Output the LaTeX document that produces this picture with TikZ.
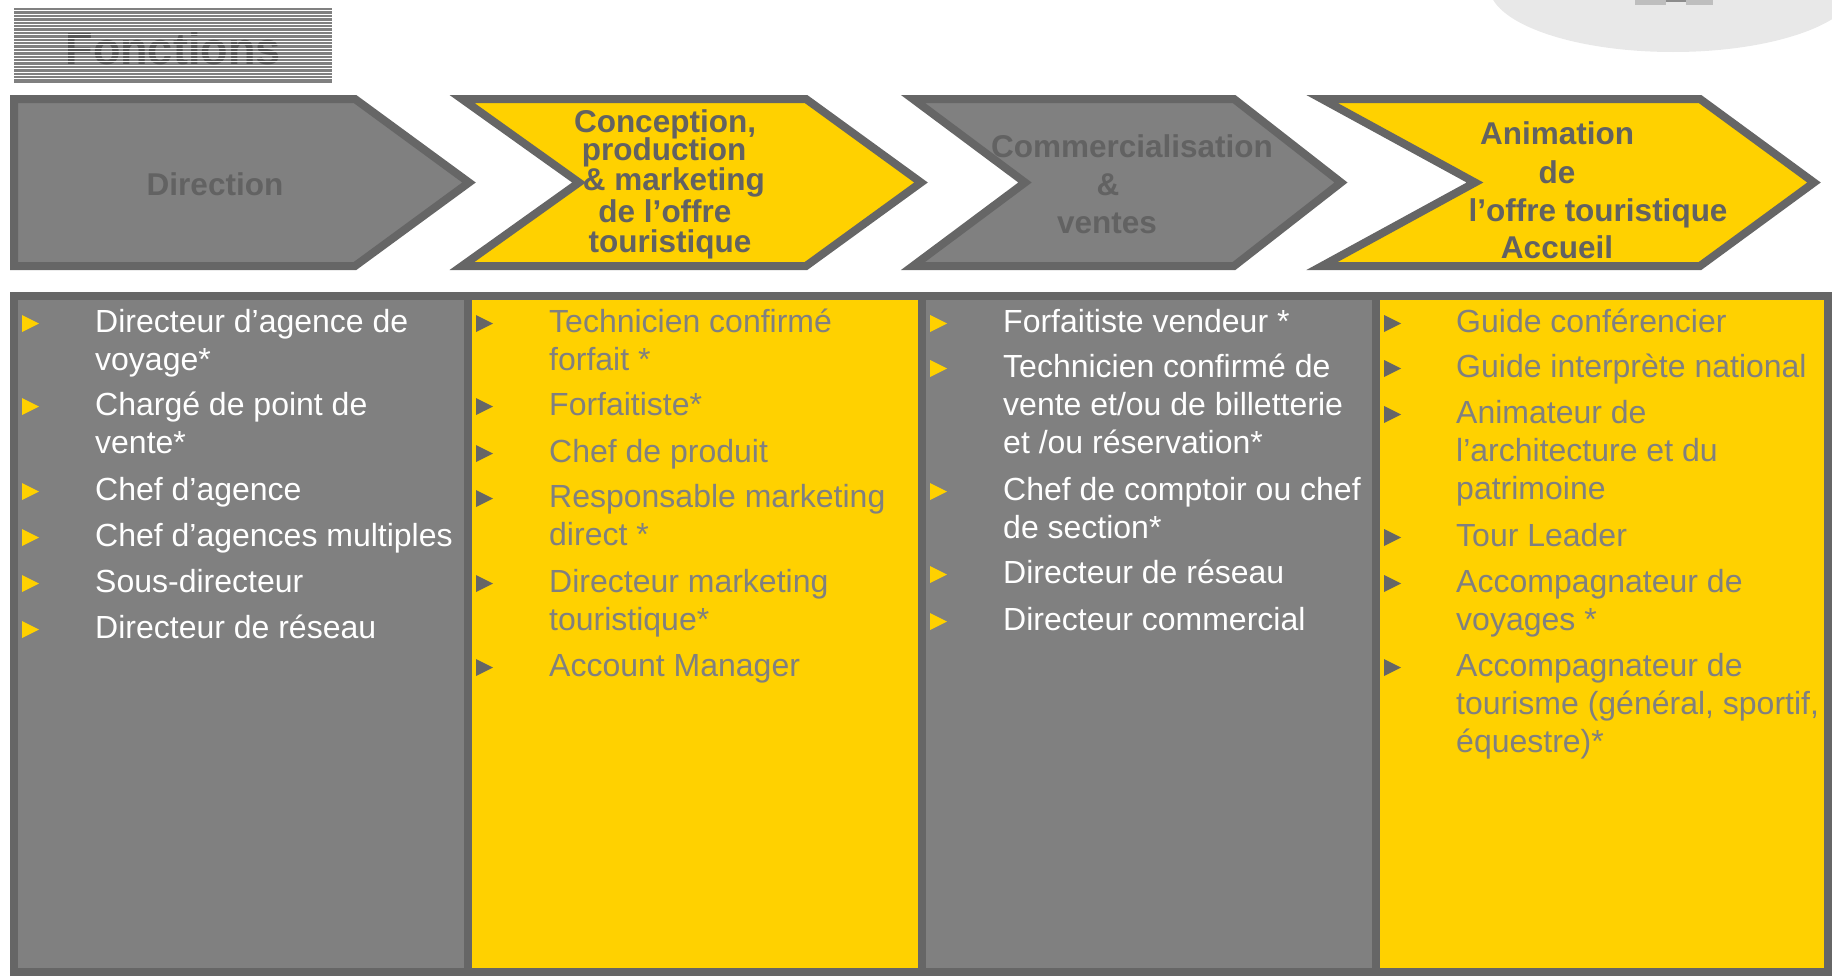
\documentclass[tikz,border=0pt]{standalone}
\usepackage{fontspec}
\setmainfont{Liberation Sans}
\definecolor{cgray}{HTML}{808080}
\definecolor{cborder}{HTML}{666666}
\definecolor{cyellow}{HTML}{FFD100}
\definecolor{ctxt}{HTML}{626262}
\definecolor{ctitle}{HTML}{555555}
\definecolor{cellipse}{HTML}{E8E8E8}
\definecolor{clogo}{HTML}{BEBEBE}
\definecolor{clogod}{HTML}{8C8C8C}
\newcommand\mybul[3]{\fill[#3] (#1,#2) -- ++(17,-8.5) -- ++(-17,-8.5) -- cycle;}
\begin{document}
\begin{tikzpicture}[x=1bp,y=-1bp,
  arrowshape/.style={line width=8bp, draw=cborder, line join=miter},
  ttl/.style={font=\fontsize{31.5bp}{38bp}\selectfont\bfseries, text=ctxt, inner sep=0, anchor=base},
  item/.style={font=\fontsize{32bp}{38bp}\selectfont, inner sep=0, anchor=base west, align=left},
  itemw/.style={item, text=white},
  itemg/.style={item, text=cgray},
  cell/.style={line width=8bp, draw=cborder},
]
\useasboundingbox (0,0) rectangle (1832,976);
% top-right decorative disc
\fill[cellipse] (1673,-14) ellipse [x radius=184, y radius=66];
\fill[clogo] (1635,0) rectangle (1666,5);
\fill[clogod] (1666,0) rectangle (1686,2);
\fill[clogo] (1686,0) rectangle (1713,5);
% title "Fonctions"
\fill[cgray] (14,8) rectangle (332,83);
\node[font=\fontsize{45bp}{50bp}\selectfont\bfseries, text=ctitle, inner sep=0, anchor=base] (fonctions) at (173,64) {Fonctions};
\foreach \k in {0,...,20} {\draw[white, line width=0.9bp] (14,10.8+3.4*\k) -- (332,10.8+3.4*\k);}
% process arrows
\filldraw[arrowshape, fill=cgray] (14,99) -- (355,99) -- (469,182.5) -- (355,266) -- (14,266) -- cycle;
\filldraw[arrowshape, fill=cyellow] (462,99) -- (806,99) -- (921,182.5) -- (806,266) -- (462,266) -- (579,182.5) -- cycle;
\filldraw[arrowshape, fill=cgray] (913,99) -- (1234,99) -- (1341,182.5) -- (1234,266) -- (913,266) -- (1025,182.5) -- cycle;
\filldraw[arrowshape, fill=cyellow] (1322,99) -- (1700,99) -- (1814,182.5) -- (1700,266) -- (1322,266) -- (1475,182.5) -- cycle;
% arrow titles
\node[ttl] (t1) at (215,195) {Direction};
\node[ttl] (t2a) at (665,132) {Conception,};
\node[ttl] (t2b) at (664,160) {production};
\node[ttl] (t2c) at (674,190) {\& marketing};
\node[ttl] (t2d) at (665,222) {de l’offre};
\node[ttl] (t2e) at (670,252) {touristique};
\node[ttl] (t3a) at (1132,157) {Commercialisation};
\node[ttl] (t3b) at (1108,195) {\&};
\node[ttl] (t3c) at (1107,233) {ventes};
\node[ttl] (t4a) at (1557,144) {Animation};
\node[ttl] (t4b) at (1557,183) {de};
\node[ttl] (t4c) at (1598,221) {l’offre touristique};
\node[ttl] (t4d) at (1557,258) {Accueil};
% columns
\fill[cgray] (14,296) rectangle (468,972);
\fill[cyellow] (468,296) rectangle (922,972);
\fill[cgray] (922,296) rectangle (1376,972);
\fill[cyellow] (1376,296) rectangle (1828,972);
\draw[cell] (14,296) rectangle (468,972);
\draw[cell] (468,296) rectangle (922,972);
\draw[cell] (922,296) rectangle (1376,972);
\draw[cell] (1376,296) rectangle (1828,972);
% column 1 (node positions = baseline of last line)
\foreach \b in {332,415,500,546,592,638} {\mybul{22}{\b}{cyellow}}
\node[itemw] (c1a) at (95,370) {Directeur d’agence de\\voyage*};
\node[itemw] (c1b) at (95,453) {Chargé de point de\\vente*};
\node[itemw] (c1c) at (95,500) {Chef d’agence};
\node[itemw] (c1d) at (95,546) {Chef d’agences multiples};
\node[itemw] (c1e) at (95,592) {Sous-directeur};
\node[itemw] (c1f) at (95,638) {Directeur de réseau};
% column 2
\foreach \b in {332,415,462,507,592,676} {\mybul{476}{\b}{cborder}}
\node[itemg] (c2a) at (549,370) {Technicien confirmé\\forfait *};
\node[itemg] (c2b) at (549,415) {Forfaitiste*};
\node[itemg] (c2c) at (549,462) {Chef de produit};
\node[itemg] (c2d) at (549,545) {Responsable marketing\\direct *};
\node[itemg] (c2e) at (549,630) {Directeur marketing\\touristique*};
\node[itemg] (c2f) at (549,676) {Account Manager};
% column 3
\foreach \b in {332,377,500,583,630} {\mybul{930}{\b}{cyellow}}
\node[itemw] (c3a) at (1003,332) {Forfaitiste vendeur *};
\node[itemw] (c3b) at (1003,453) {Technicien confirmé de\\vente et/ou de billetterie\\et /ou réservation*};
\node[itemw] (c3c) at (1003,538) {Chef de comptoir ou chef\\de section*};
\node[itemw] (c3d) at (1003,583) {Directeur de réseau};
\node[itemw] (c3e) at (1003,630) {Directeur commercial};
% column 4
\foreach \b in {332,377,423,546,592,676} {\mybul{1384}{\b}{cborder}}
\node[itemg] (c4a) at (1456,332) {Guide conférencier};
\node[itemg] (c4b) at (1456,377) {Guide interprète national};
\node[itemg] (c4c) at (1456,499) {Animateur de\\l’architecture et du\\patrimoine};
\node[itemg] (c4d) at (1456,546) {Tour Leader};
\node[itemg] (c4e) at (1456,630) {Accompagnateur de\\voyages *};
\node[itemg] (c4f) at (1456,752) {Accompagnateur de\\tourisme (général, sportif,\\équestre)*};
\end{tikzpicture}
\end{document}
